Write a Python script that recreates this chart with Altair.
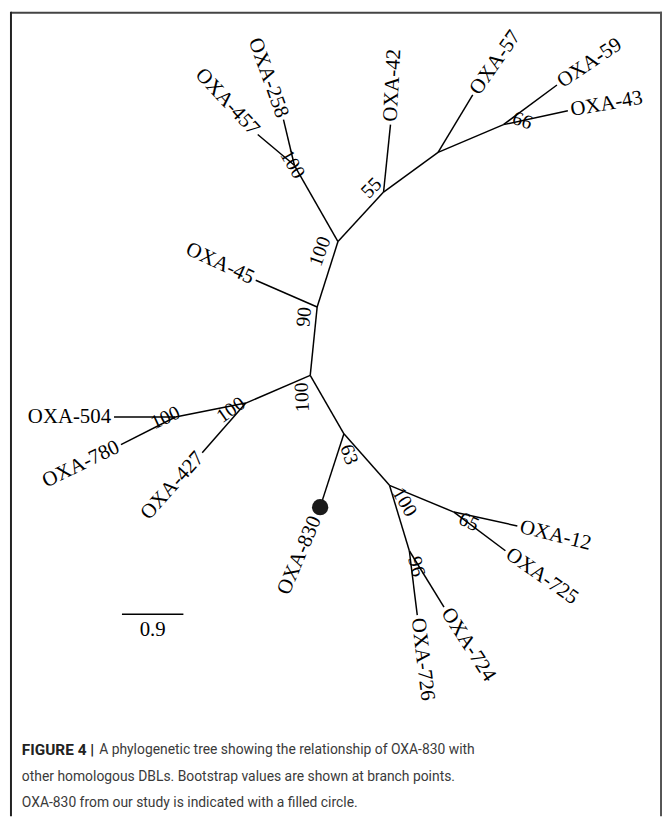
import altair as alt
import pandas as pd

# ---------------- data (page-pixel layout units) ----------------
node_names = ["n_top", "n_258_457", "n_55", "n_57", "n_66", "n_90", "n_center",
              "n_427", "n_504", "n_63", "n_100b", "n_65", "n_96",
              "OXA-258", "OXA-457", "OXA-42", "OXA-57", "OXA-59", "OXA-43", "OXA-45",
              "OXA-504", "OXA-780", "OXA-427", "OXA-830", "OXA-12", "OXA-725",
              "OXA-726", "OXA-724"]
node_x = [341, 297, 387, 442, 508, 320, 313, 248, 177, 347, 393, 458, 413,
          286, 260, 394, 477, 562, 573, 258, 115, 122, 204, 323, 522, 510, 421, 448]
node_y = [240, 163, 190, 150, 122, 306, 375, 403, 417, 434, 486, 513, 552,
          117, 132, 122, 92, 82, 108, 279, 417, 445, 453, 508, 527, 552, 617, 609]

edge_from = ["n_top", "n_258_457", "n_258_457", "n_top", "n_55", "n_55", "n_57", "n_57",
             "n_66", "n_66", "n_top", "n_90", "n_90", "n_center", "n_427", "n_427",
             "n_504", "n_504", "n_center", "n_63", "n_63", "n_100b", "n_65", "n_65",
             "n_100b", "n_96", "n_96"]
edge_to = ["n_258_457", "OXA-258", "OXA-457", "n_55", "OXA-42", "n_57", "OXA-57", "n_66",
           "OXA-59", "OXA-43", "n_90", "OXA-45", "n_center", "n_427", "OXA-427", "n_504",
           "OXA-504", "OXA-780", "n_63", "OXA-830", "n_100b", "n_65", "OXA-12", "OXA-725",
           "n_96", "OXA-726", "OXA-724"]

leaf_names = ["OXA-258", "OXA-457", "OXA-42", "OXA-57", "OXA-59", "OXA-43", "OXA-45",
              "OXA-504", "OXA-780", "OXA-427", "OXA-830", "OXA-12", "OXA-725",
              "OXA-724", "OXA-726"]
leaf_angles = [70, 47, -87, -55, -34, -10, 25, 0, -26, -48, -67, 14, 35, 57, 83]
leaf_sides = ["in", "in", "out", "out", "out", "out", "in", "in", "in", "in", "in",
              "out", "out", "out", "out"]

boot_text = ["100", "55", "66", "100", "90", "100", "100", "100", "63", "100", "65", "96"]
boot_x = [295, 375, 527, 323, 307, 305, 233, 167, 352, 408, 473, 420]
boot_y = [162, 186, 118, 250, 316, 397, 410, 418, 455, 503, 523, 568]
boot_angle = [60, -45, 20, -70, -85, -93, -35, -25, 70, 60, 25, 75]

study_leaf = "OXA-830"
scale_bar_label = "0.9"
scale_bar_x = [123, 185]
scale_bar_y = [616]

caption_bold = "FIGURE 4 |"
caption_lines = ["A phylogenetic tree showing the relationship of OXA-830 with",
                 "other homologous DBLs. Bootstrap values are shown at branch points.",
                 "OXA-830 from our study is indicated with a filled circle."]

# ---------------- tables ----------------
pos = {n: (x, y) for n, x, y in zip(node_names, node_x, node_y)}
edges = pd.DataFrame({
    "x": [pos[a][0] for a in edge_from], "y": [pos[a][1] for a in edge_from],
    "x2": [pos[b][0] for b in edge_to], "y2": [pos[b][1] for b in edge_to],
})
leaves = pd.DataFrame({
    "name": leaf_names,
    "x": [pos[n][0] for n in leaf_names],
    "y": [pos[n][1] for n in leaf_names],
    "angle": [a % 360 for a in leaf_angles],
    "side": leaf_sides,
})
boots = pd.DataFrame({"t": boot_text, "x": boot_x, "y": boot_y,
                      "angle": [a % 360 for a in boot_angle]})
study = pd.DataFrame({"x": [pos[study_leaf][0]], "y": [pos[study_leaf][1]]})
sbar = pd.DataFrame({"x": [scale_bar_x[0]], "x2": [scale_bar_x[1]], "y": scale_bar_y,
                     "xm": [sum(scale_bar_x) / 2], "t": [scale_bar_label]})

W, H = 654, 810
xs = alt.Scale(domain=[8, 8 + W], nice=False, zero=False)
ys = alt.Scale(domain=[8, 8 + H], nice=False, zero=False, reverse=True)
X = lambda f: alt.X(f, type="quantitative", scale=xs, axis=None)
Y = lambda f: alt.Y(f, type="quantitative", scale=ys, axis=None)

serif = "Liberation Serif"

branches = alt.Chart(edges).mark_rule(color="black", strokeWidth=1.5).encode(
    x=X("x"), y=Y("y"), x2="x2", y2="y2")

lab_in = alt.Chart(leaves).transform_filter(
    (alt.datum.side == "in") & (alt.datum.name != study_leaf)
).mark_text(font=serif, fontSize=21, align="right", baseline="middle", dx=-3,
            color="black").encode(x=X("x"), y=Y("y"), text="name:N",
                                  angle=alt.Angle("angle:Q", scale=None))
lab_out = alt.Chart(leaves).transform_filter(alt.datum.side == "out").mark_text(
    font=serif, fontSize=21, align="left", baseline="middle", dx=3, color="black"
).encode(x=X("x"), y=Y("y"), text="name:N", angle=alt.Angle("angle:Q", scale=None))
lab_study = alt.Chart(leaves).transform_filter(alt.datum.name == study_leaf).mark_text(
    font=serif, fontSize=21, align="right", baseline="middle", dx=-11, color="black"
).encode(x=X("x"), y=Y("y"), text="name:N", angle=alt.Angle("angle:Q", scale=None))

dot = alt.Chart(study).mark_circle(size=270, color="#1a1a1a", opacity=1).encode(
    x=X("x"), y=Y("y"))

boot_lab = alt.Chart(boots).mark_text(font=serif, fontSize=20, align="center",
                                      baseline="middle", color="black").encode(
    x=X("x"), y=Y("y"), text="t:N", angle=alt.Angle("angle:Q", scale=None))

bar = alt.Chart(sbar).mark_rule(color="black", strokeWidth=1.5).encode(
    x=X("x"), x2="x2", y=Y("y"))
bar_lab = alt.Chart(sbar).mark_text(font=serif, fontSize=21, baseline="top", dy=5,
                                    color="black").encode(x=X("xm"), y=Y("y"), text="t:N")

frame_top = alt.Chart(pd.DataFrame({"a": [0]})).mark_rule(color="#444", strokeWidth=2).encode(
    x=alt.value(3), x2=alt.value(660), y=alt.value(1))
frame_left = alt.Chart(pd.DataFrame({"a": [0]})).mark_rule(color="#222", strokeWidth=2).encode(
    x=alt.value(3), y=alt.value(0), y2=alt.value(H + 2))
frame_right = alt.Chart(pd.DataFrame({"a": [0]})).mark_rule(color="#555", strokeWidth=2).encode(
    x=alt.value(659), y=alt.value(0), y2=alt.value(H + 2))

capfont = "Roboto"
cap_b = alt.Chart(pd.DataFrame({"t": [caption_bold]})).mark_text(
    font=capfont, fontSize=15.5, fontWeight="bold", align="left", baseline="middle",
    color="#222").encode(x=alt.value(14), y=alt.value(745), text="t:N")
cap_layers = []
for i, line in enumerate(caption_lines):
    cap_layers.append(alt.Chart(pd.DataFrame({"t": [line]})).mark_text(
        font=capfont, fontSize=14, align="left", baseline="middle", color="#3a3a3a"
    ).encode(x=alt.value(92 if i == 0 else 14), y=alt.value(745 + 27 * i), text="t:N"))

chart = alt.layer(frame_top, frame_left, frame_right, branches, dot, lab_in, lab_out,
                  lab_study, boot_lab, bar, bar_lab, cap_b, *cap_layers).properties(
    width=W, height=H, autosize=alt.AutoSizeParams(type="none"),
    padding={"left": 0, "top": 0, "right": 6, "bottom": 0}
).configure_view(stroke=None)

chart.save("out.html", embed_options={"renderer": "svg", "actions": False})
